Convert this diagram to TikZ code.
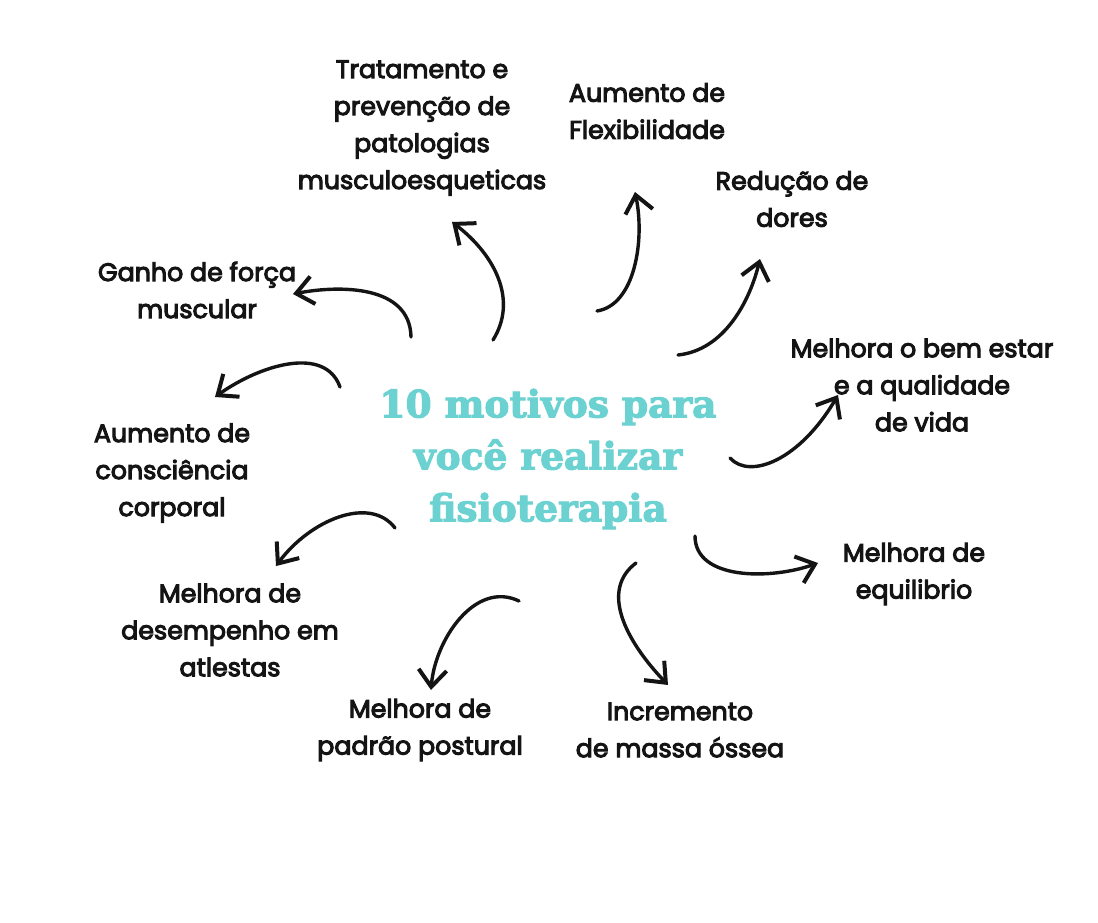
\documentclass[tikz,border=0pt]{standalone}
\usepackage{fontspec}
\setmainfont{Poppins}
\newfontfamily\lblfont{Poppins}[FakeBold=4]
\newfontfamily\titlefont{DejaVu Serif}[FakeBold=3]
\usetikzlibrary{arrows.meta}
\definecolor{teal1}{HTML}{6BD1D1}
\definecolor{ink}{HTML}{141414}
\tikzset{
  lbl/.style={align=center, text=ink, font=\lblfont\fontsize{25.3}{37}\selectfont, inner sep=0pt},
  ttl/.style={align=center, text=teal1, font=\titlefont\bfseries\fontsize{37.5}{52}\selectfont, inner sep=0pt},
  arr/.style={draw=ink, line width=3.4pt, line cap=round, -{Straight Barb[length=17pt, width=28pt, line width=4pt]}}
}
\begin{document}
\begin{tikzpicture}[x=1pt, y=-1pt]
\useasboundingbox (0,0) rectangle (1098,923);
\fill[white] (0,0) rectangle (1098,923);

\node[ttl] (title) at (548,459) {10 motivos para\\você realizar\\fisioterapia};

\node[lbl] (trat) at (422,128) {Tratamento e\\prevenção de\\patologias\\musculoesqueticas};
\node[lbl] (flex) at (647,111) {Aumento de\\Flexibilidade};
\node[lbl] (dor) at (792,199) {Redução de\\dores};
\node[lbl] (bem) at (922,385) {Melhora o bem estar\\e a qualidade\\de vida};
\node[lbl] (equi) at (914,574) {Melhora de\\equilibrio};
\node[lbl] (osso) at (680,730) {Incremento\\de massa óssea};
\node[lbl] (post) at (420,730) {Melhora de\\padrão postural};
\node[lbl] (desemp) at (230,630) {Melhora de\\desempenho em\\atlestas};
\node[lbl] (consc) at (172,473) {Aumento de\\consciência\\corporal};
\node[lbl] (forca) at (197,290) {Ganho de força\\muscular};

\coordinate (t1) at (493,340); \coordinate (h1) at (452,222);
\coordinate (t2) at (597,311); \coordinate (h2) at (635,192);
\coordinate (t3) at (678,355); \coordinate (h3) at (760,259);
\coordinate (t4) at (730,458); \coordinate (h4) at (838,395);
\coordinate (t5) at (695,536); \coordinate (h5) at (818,563);
\coordinate (t6) at (636,563); \coordinate (h6) at (668,685);
\coordinate (t7) at (519,601); \coordinate (h7) at (431,690);
\coordinate (t8) at (395,528); \coordinate (h8) at (276,566);
\coordinate (t9) at (340,387); \coordinate (h9) at (215,397);
\coordinate (t10) at (411,337); \coordinate (h10) at (293,294);

\draw[arr] (t1) .. controls (518,300) and (495,255) .. (h1);
\draw[arr] (t2) .. controls (635,305) and (645,240) .. (h2);
\draw[arr] (t3) .. controls (725,350) and (750,300) .. (h3);
\draw[arr] (t4) .. controls (750,480) and (800,460) .. (h4);
\draw[arr] (t5) .. controls (695,580) and (770,580) .. (h5);
\draw[arr] (t6) .. controls (600,590) and (625,640) .. (h6);
\draw[arr] (t7) .. controls (475,580) and (435,640) .. (h7);
\draw[arr] (t8) .. controls (370,495) and (310,520) .. (h8);
\draw[arr] (t9) .. controls (325,345) and (260,365) .. (h9);
\draw[arr] (t10) .. controls (410,285) and (340,285) .. (h10);
\end{tikzpicture}
\end{document}
